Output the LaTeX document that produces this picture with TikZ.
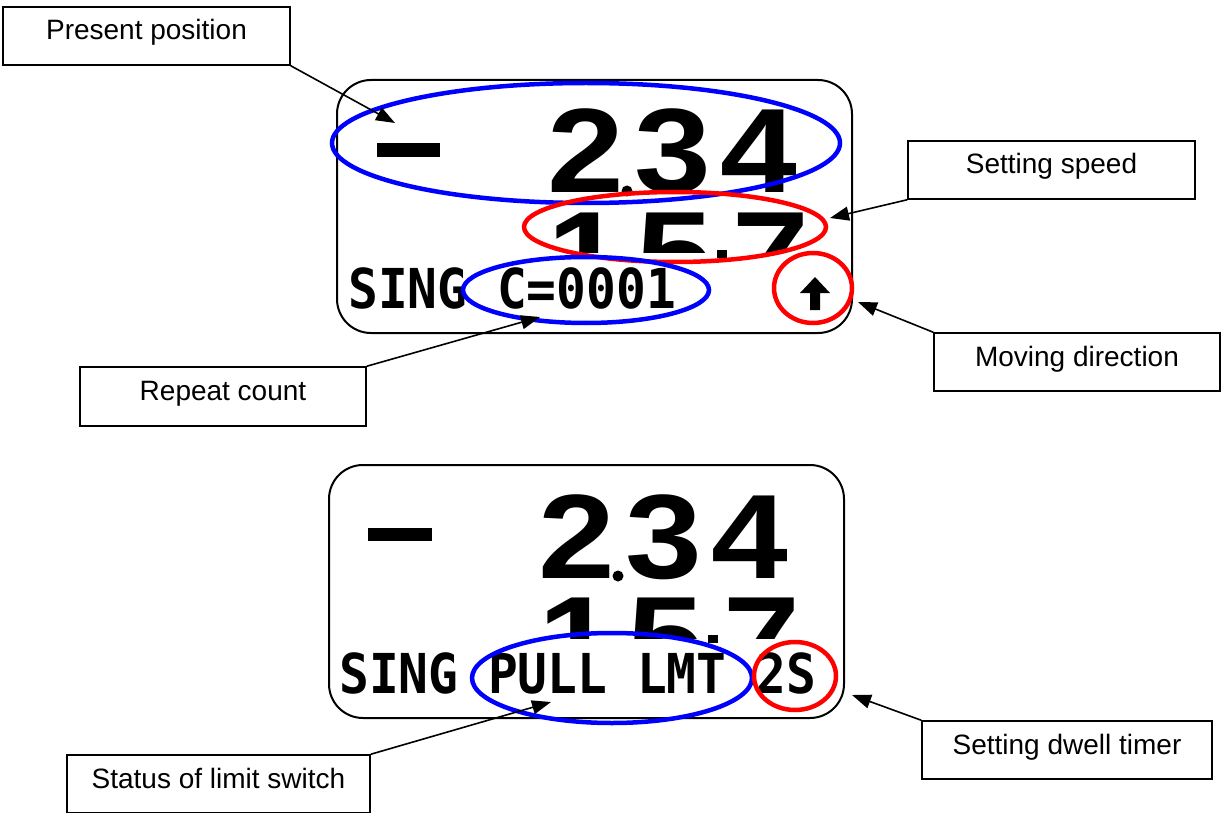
\documentclass[tikz,border=0pt]{standalone}
\usepackage{fontspec}
\usepackage{graphicx}
\setmainfont{Liberation Sans}
\newfontfamily\lcdbig{Liberation Sans}
\newfontfamily\lcdmono{DejaVu Sans Mono}
\usetikzlibrary{arrows.meta,shapes.geometric}
\definecolor{rblue}{RGB}{0,0,255}
\definecolor{rred}{RGB}{255,0,0}
\tikzset{
  lbl/.style={draw, line width=1.5pt, minimum height=58pt, text height=20pt, text depth=12pt, inner sep=0pt, font=\fontsize{28}{28}\selectfont},
  ring/.style={ellipse, draw, line width=4.5pt, inner sep=0pt},
  lcd/.style={draw, line width=2pt, rounded corners=34pt, inner sep=0pt},
  bigdig/.style={inner sep=0pt, anchor=base, font=\lcdbig\bfseries\fontsize{120}{120}\selectfont},
  monotxt/.style={inner sep=0pt, anchor=base west, font=\lcdmono\bfseries\fontsize{55}{55}\selectfont},
  ptr/.style={-{Triangle[length=19pt,width=14pt]}, line width=1.6pt},
}
\newcommand{\wide}[1]{\scalebox{1.15}[1]{#1}}
\newcommand{\narrow}[1]{\scalebox{0.9}[1]{#1}}
\begin{document}
\begin{tikzpicture}[x=1pt,y=-1pt]
\useasboundingbox (0,0) rectangle (1221,813);

% ---------- top display ----------
\node[lcd, minimum width=515pt, minimum height=253pt] (d1) at (594.5,206.5) {};
\fill (377,143) rectangle (440,157);
\node[bigdig] (t2) at (586,193) {\wide{2}};
\node[bigdig] (t3) at (672.5,193) {\wide{3}};
\node[bigdig] (t4) at (759,193) {\wide{4}};
\fill (627,191) circle (5.5);
\begin{scope}
  \clip (500,200) rectangle (830,253);
  \node[bigdig] (s1) at (586,295) {\wide{1}};
  \node[bigdig] (s5) at (674.5,295) {\wide{5}};
  \node[bigdig] (s7) at (771,295) {\wide{7}};
\end{scope}
\fill (717,250) rectangle (727,258);
\node[monotxt] (l1) at (348,308) {\narrow{SING C=0001}};
\fill (815,277) -- (830,293) -- (820,293) -- (820,310) -- (810,310) -- (810,293) -- (800,293) -- cycle;

\node[ring, rblue, minimum width=508pt, minimum height=120pt] (e1) at (586,143) {};
\node[ring, rred, minimum width=302pt, minimum height=70pt] (e2) at (675,227) {};
\node[ring, rblue, minimum width=246pt, minimum height=66pt] (e3) at (586,290) {};
\node[ring, rred, minimum width=78pt, minimum height=70pt] (e4) at (813,288) {};

% ---------- bottom display ----------
\node[lcd, minimum width=515pt, minimum height=253pt] (d2) at (586.5,591.5) {};
\fill (368,528) rectangle (432,541);
\node[bigdig] (b2) at (577,578) {\wide{2}};
\node[bigdig] (b3) at (663.5,578) {\wide{3}};
\node[bigdig] (b4) at (750,578) {\wide{4}};
\fill (618,576) circle (5.5);
\begin{scope}
  \clip (490,585) rectangle (820,638);
  \node[bigdig] (c1) at (577,680) {\wide{1}};
  \node[bigdig] (c5) at (665.5,680) {\wide{5}};
  \node[bigdig] (c7) at (762,680) {\wide{7}};
\end{scope}
\fill (708,635) rectangle (718,643);
\node[monotxt] (l2) at (339,693) {\narrow{SING PULL LMT 2S}};

\node[ring, rblue, minimum width=280pt, minimum height=90pt] (f1) at (612,678) {};
\node[ring, rred, minimum width=82pt, minimum height=68pt] (f2) at (795,676) {};

% ---------- labels ----------
\node[lbl, minimum width=287pt] (pp) at (146.5,36) {Present position};
\node[lbl, minimum width=287pt] (ss) at (1051.5,170) {Setting speed};
\node[lbl, minimum width=286pt] (md) at (1077,362) {Moving direction};
\node[lbl, minimum width=286pt, minimum height=59pt] (rc) at (223,396.5) {Repeat count};
\node[lbl, minimum width=303pt] (sl) at (218.5,784) {Status of limit switch};
\node[lbl, minimum width=290pt] (dw) at (1067,750) {Setting dwell timer};

% ---------- pointer tips ----------
\coordinate (tpp) at (395,123);
\coordinate (tss) at (830,218);
\coordinate (tmd) at (858,302);
\coordinate (trc) at (540,317);
\coordinate (tsl) at (551,702);
\coordinate (tdw) at (852,695);

\draw[ptr] (pp.south east) -- (tpp);
\draw[ptr] (ss.south west) -- (tss);
\draw[ptr] (md.north west) -- (tmd);
\draw[ptr] (rc.north east) -- (trc);
\draw[ptr] (sl.north east) -- (tsl);
\draw[ptr] (dw.north west) -- (tdw);
\end{tikzpicture}
\end{document}
